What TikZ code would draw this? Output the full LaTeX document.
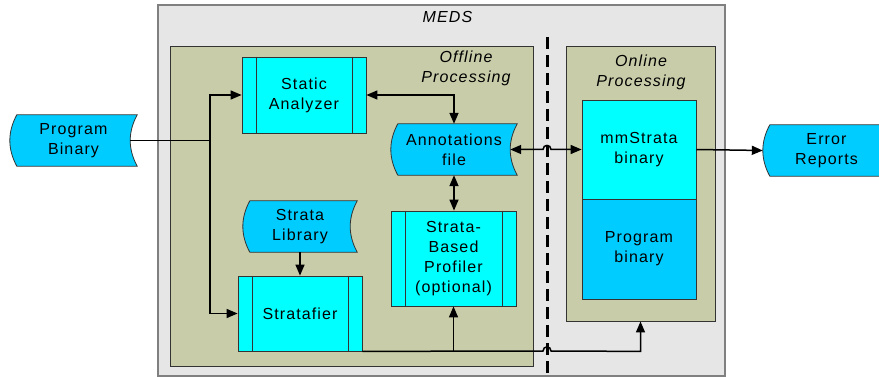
\documentclass[tikz,border=0pt]{standalone}
\usepackage{fontspec}
\setmainfont{Liberation Sans}[LetterSpace=7]
\usetikzlibrary{arrows.meta,calc}
\definecolor{proccol}{HTML}{00FFFF}
\definecolor{datacol}{HTML}{00CCFF}
\definecolor{olivecol}{HTML}{C8CCA9}
\definecolor{medsgray}{HTML}{E6E6E6}
\definecolor{edgecol}{HTML}{333333}
\definecolor{outergray}{HTML}{808080}
\pgfdeclarelayer{back}
\pgfdeclarelayer{mid}
\pgfsetlayers{back,mid,main}
\tikzset{
  txt/.style={font=\fontsize{16}{20}\selectfont, align=center},
  itxt/.style={font=\fontsize{16}{20}\selectfont\itshape, align=center},
  procbox/.style={txt, draw=edgecol, line width=0.8pt, fill=proccol, inner sep=0pt},
  datanode/.style={txt, inner sep=0pt, minimum width=127pt, minimum height=51pt},
  container/.style={draw=edgecol, line width=0.9pt, fill=olivecol, inner sep=0pt},
  conn/.style={line width=1.5pt, draw=black},
  tip/.style={-{Triangle[length=11pt,width=9pt]}},
  tips/.style={{Triangle[length=11pt,width=9pt]}-{Triangle[length=11pt,width=9pt]}},
}
\newcommand\datashape[1]{%
  \begin{pgfonlayer}{mid}
  \draw[edgecol, line width=0.8pt, fill=datacol]
    let \p1=(#1.north west), \p2=(#1.south east), \n1={(\y2-\y1)/3} in
    (\x1+7pt,\y1) -- (\x2,\y1)
    .. controls (\x2-9.3pt,\y1+\n1) and (\x2-9.3pt,\y2-\n1) .. (\x2,\y2)
    -- (\x1+7pt,\y2)
    .. controls (\x1-2.3pt,\y2-\n1) and (\x1-2.3pt,\y1+\n1) .. (\x1+7pt,\y1) -- cycle;
  \end{pgfonlayer}}
\newcommand\predef[1]{%
  \draw[edgecol, line width=0.8pt]
    ($(#1.north west)+(14.5,0)$) -- ($(#1.south west)+(14.5,0)$)
    ($(#1.north east)+(-14.5,0)$) -- ($(#1.south east)+(-14.5,0)$);}
\begin{document}
\begin{tikzpicture}[x=1pt,y=-1pt]
\useasboundingbox (0,0) rectangle (879,377);

% containers
\begin{pgfonlayer}{back}
  \node[draw=outergray, line width=1.2pt, fill=medsgray, minimum width=567pt, minimum height=371pt, inner sep=0pt] (meds) at (441.5,190.5) {};
  \node[container, minimum width=363pt, minimum height=320pt] (off) at (351.5,206) {};
  \node[container, minimum width=149pt, minimum height=275pt] (on) at (640.5,183.5) {};
\end{pgfonlayer}
\node[itxt] (medslbl) at (447.5,17) {MEDS};
\node[itxt] (offlbl) at (466,68) {Offline\\Processing};
\node[itxt] (onlbl) at (641,72) {Online\\Processing};

% divider
\draw[line width=3pt, dash pattern=on 12pt off 6pt] (547,37) -- (547,377);

% data shapes
\node[datanode] (pb) at (73.5,140.5) {Program\\Binary};
\datashape{pb}
\node[datanode, minimum width=126pt] (af) at (454,149.5) {Annotations\\file};
\datashape{af}
\node[datanode, minimum width=114pt] (sl) at (300,226.5) {Strata\\Library};
\datashape{sl}
\node[datanode] (er) at (826.5,150.5) {Error\\Reports};
\datashape{er}

% process boxes
\node[procbox, minimum width=124pt, minimum height=76pt] (sa) at (304,95) {Static\\Analyzer};
\predef{sa}
\node[procbox, minimum width=124pt, minimum height=75pt] (sf) at (300,313.5) {Stratafier};
\predef{sf}
\node[procbox, minimum width=125pt, minimum height=95pt] (bp) at (453.5,258.5) {Strata-\\Based\\Profiler\\(optional)};
\predef{bp}
\node[procbox, minimum width=114pt, minimum height=99pt] (mm) at (639,149.5) {mmStrata\\binary};
\node[procbox, fill=datacol, minimum width=114pt, minimum height=100pt] (pbin) at (639,249) {Program\\binary};

% connectors
\coordinate (j) at (210,0);
\draw[conn] ($(pb.east)+(-7,0)$) -- (j |- pb.east);
\draw[conn, tips] (sf.west) -- (j |- sf.west) -- (j |- sa.west) -- (sa.west);
\draw[conn, tips] (sa.east) -- (af.north |- sa.east) -- (af.north);
\draw[conn, tips] (af.south) -- (af.south |- bp.north);
\draw[conn, tips] ($(af.east)+(-7,0)$) -- (543,149.5)
  .. controls (543,144) and (551,144) .. (551,149.5) -- (mm.west);
\draw[conn, tip] (sl.south) -- (sl.south |- sf.north);
\draw[conn, tip] (sf.south east) -- (543,351)
  .. controls (543,345.5) and (551,345.5) .. (551,351)
  -- (on.south |- sf.south east) -- (on.south);
\draw[conn, tip] (bp.south |- sf.south east) -- (bp.south);
\draw[conn, tip] (mm.east) -- (er.west);
\end{tikzpicture}
\end{document}
